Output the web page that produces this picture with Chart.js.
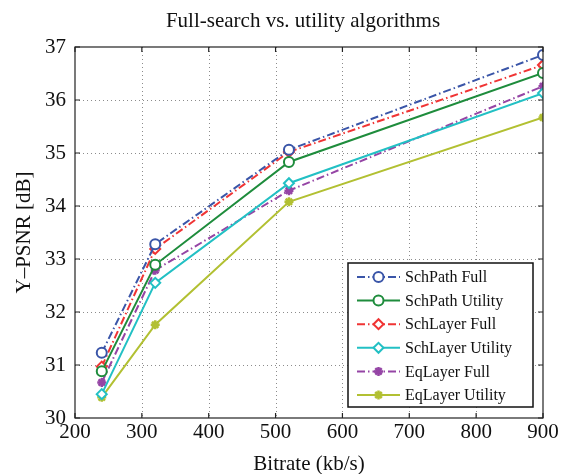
<!DOCTYPE html>
<html>
<head>
<meta charset="utf-8">
<script src="https://cdn.jsdelivr.net/npm/chart.js@4"></script>
<style>
  html, body { margin: 0; padding: 0; background: #fff; }
  #wrap { width: 566px; height: 474px; }
</style>
</head>
<body>
<div id="wrap"><canvas id="psnrChart" width="566" height="474"></canvas></div>
<script>
// bitrates (kb/s)
const bitrates = [240, 320, 520, 900];
const xTicks = [200, 300, 400, 500, 600, 700, 800, 900];
const yTicks = [30, 31, 32, 33, 34, 35, 36, 37];

// Y-PSNR [dB]
const schPathFull = [31.23, 33.28, 35.06, 36.85];
const schPathUtility = [30.88, 32.89, 34.83, 36.51];
const schLayerFull = [30.97, 33.19, 35.02, 36.66];
const schLayerUtility = [30.45, 32.55, 34.43, 36.13];
const eqLayerFull = [30.67, 32.79, 34.29, 36.26];
const eqLayerUtility = [30.39, 31.76, 34.08, 35.67];

const chartTitle = 'Full-search vs. utility algorithms';
const serif = "'Liberation Serif', 'DejaVu Serif', serif";
const dashDot = [8, 3, 1.5, 3];

function series(label, values, color, dash, marker) {
  return {
    label,
    data: values.map((v, i) => ({ x: bitrates[i], y: v })),
    borderColor: color,
    backgroundColor: marker === 'star' ? color : '#fff',
    pointBorderColor: color,
    borderWidth: 2,
    borderDash: dash,
    pointStyle: marker,
    pointRadius: marker === 'star' ? 4.5 : 5,
    pointBorderWidth: marker === 'star' ? 2.5 : 2,
    tension: 0
  };
}

const datasets = [
  series('SchPath Full', schPathFull, '#3a55a8', dashDot, 'circle'),
  series('SchPath Utility', schPathUtility, '#1e8c3c', [], 'circle'),
  series('SchLayer Full', schLayerFull, '#f03434', dashDot, 'rectRot'),
  series('SchLayer Utility', schLayerUtility, '#22c0c4', [], 'rectRot'),
  series('EqLayer Full', eqLayerFull, '#9545a5', dashDot, 'star'),
  series('EqLayer Utility', eqLayerUtility, '#b2c032', [], 'star')
];

// dotted grid behind the lines + title (a bit right of canvas centre, like the original)
const gridPlugin = {
  id: 'dotGrid',
  beforeDatasetsDraw(chart) {
    const { ctx, chartArea: a, scales } = chart;
    ctx.save();
    ctx.strokeStyle = '#8c8c8c';
    ctx.lineWidth = 1;
    ctx.setLineDash([1, 3]);
    ctx.beginPath();
    xTicks.slice(1, -1).forEach(t => {
      const px = Math.round(scales.x.getPixelForValue(t)) + 0.5;
      ctx.moveTo(px, a.top); ctx.lineTo(px, a.bottom);
    });
    yTicks.slice(1, -1).forEach(t => {
      const py = Math.round(scales.y.getPixelForValue(t)) + 0.5;
      ctx.moveTo(a.left, py); ctx.lineTo(a.right, py);
    });
    ctx.stroke();

    ctx.setLineDash([]);
    ctx.fillStyle = '#111';
    ctx.font = '21px ' + serif;
    ctx.textAlign = 'center';
    ctx.textBaseline = 'alphabetic';
    ctx.fillText(chartTitle, 303, 27);
    ctx.restore();
  }
};

// frame, inward ticks and the legend box inside the plot
const framePlugin = {
  id: 'frame',
  afterDatasetsDraw(chart) {
    const { ctx, chartArea: a, scales } = chart;
    ctx.save();
    ctx.strokeStyle = '#222';
    ctx.lineWidth = 1.2;
    ctx.setLineDash([]);
    ctx.strokeRect(a.left, a.top, a.right - a.left, a.bottom - a.top);
    ctx.beginPath();
    xTicks.forEach(t => {
      const px = scales.x.getPixelForValue(t);
      ctx.moveTo(px, a.bottom); ctx.lineTo(px, a.bottom - 5);
      ctx.moveTo(px, a.top); ctx.lineTo(px, a.top + 5);
    });
    yTicks.forEach(t => {
      const py = scales.y.getPixelForValue(t);
      ctx.moveTo(a.left, py); ctx.lineTo(a.left + 5, py);
      ctx.moveTo(a.right, py); ctx.lineTo(a.right - 5, py);
    });
    ctx.stroke();

    // legend
    const bx = 348, by = 263, bw = 185, bh = 144;
    ctx.fillStyle = '#fff';
    ctx.fillRect(bx, by, bw, bh);
    ctx.lineWidth = 1.5;
    ctx.strokeStyle = '#111';
    ctx.strokeRect(bx, by, bw, bh);
    ctx.font = '16px ' + serif;
    ctx.textBaseline = 'middle';
    chart.data.datasets.forEach((ds, i) => {
      const y = by + 14 + i * 23.6;
      ctx.strokeStyle = ds.borderColor;
      ctx.lineWidth = 2;
      ctx.setLineDash(ds.borderDash);
      ctx.beginPath();
      ctx.moveTo(bx + 9, y); ctx.lineTo(bx + 52, y);
      ctx.stroke();
      ctx.setLineDash([]);
      ctx.fillStyle = ds.backgroundColor;
      ctx.strokeStyle = ds.pointBorderColor;
      ctx.lineWidth = ds.pointBorderWidth;
      Chart.helpers.drawPoint(ctx, { pointStyle: ds.pointStyle, radius: ds.pointRadius, borderWidth: ds.pointBorderWidth, rotation: 0 }, bx + 30.5, y);
      ctx.fillStyle = '#111';
      ctx.fillText(ds.label, bx + 57, y + 1);
    });
    ctx.restore();
  }
};

new Chart(document.getElementById('psnrChart'), {
  type: 'line',
  data: { datasets },
  plugins: [gridPlugin, framePlugin],
  options: {
    responsive: false,
    animation: false,
    layout: { padding: { left: 0, right: 23, top: 47, bottom: 0 } },
    plugins: {
      legend: { display: false },
      tooltip: { enabled: false },
      title: { display: false }
    },
    scales: {
      x: {
        type: 'linear',
        min: 200, max: 900,
        afterBuildTicks: s => { s.ticks = xTicks.map(v => ({ value: v })); },
        afterFit: s => { s.height = 56; },
        grid: { display: false, drawTicks: false },
        border: { display: false },
        ticks: { color: '#111', padding: 2, font: { family: serif, size: 21 } },
        title: { display: true, text: 'Bitrate (kb/s)', color: '#111', padding: { top: 0, bottom: -3 }, font: { family: serif, size: 21 } }
      },
      y: {
        type: 'linear',
        min: 30, max: 37,
        afterBuildTicks: s => { s.ticks = yTicks.map(v => ({ value: v })); },
        afterFit: s => { s.width = 75; },
        grid: { display: false, drawTicks: false },
        border: { display: false },
        ticks: { color: '#111', padding: 9, font: { family: serif, size: 21 } },
        title: { display: true, text: 'Y\u2013PSNR [dB]', color: '#111', padding: { top: 12, bottom: 0 }, font: { family: serif, size: 21 } }
      }
    }
  }
});
</script>
</body>
</html>
